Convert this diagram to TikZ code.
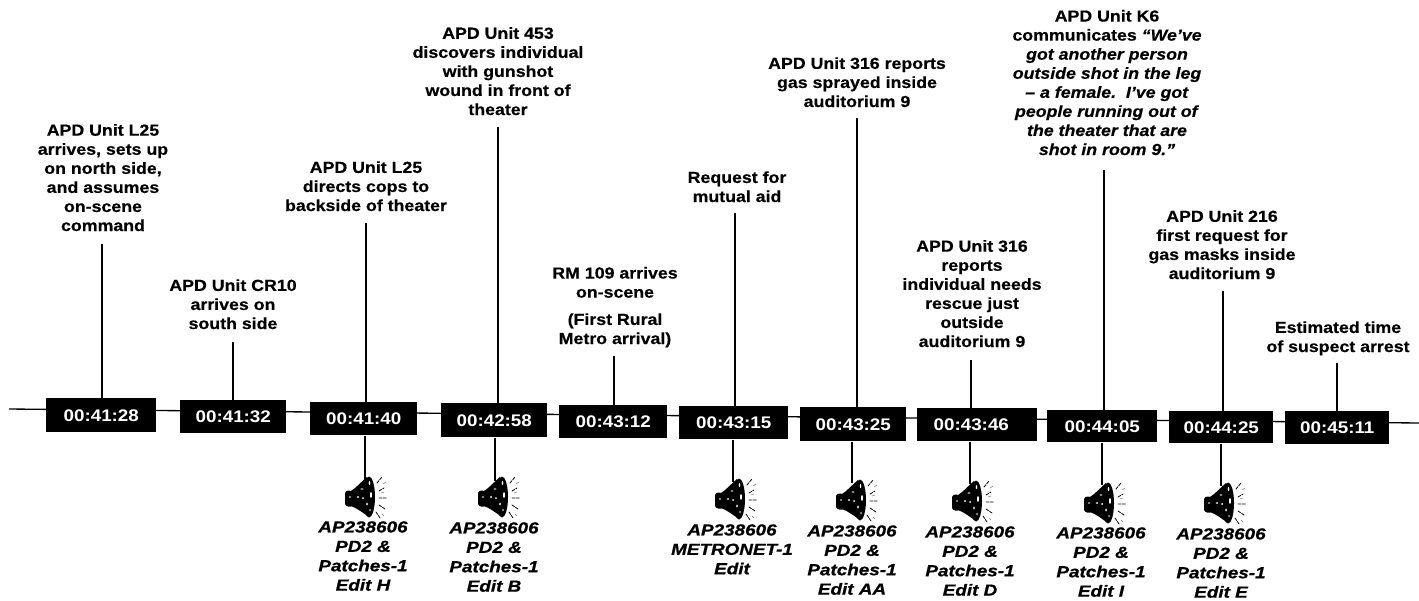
\documentclass[tikz,border=0pt]{standalone}
\usepackage{fontspec}
\setmainfont{Liberation Sans}
\newfontfamily\labfont[UprightFont=* Bold,ItalicFont=* Bold Italic,FakeStretch=1.11,FakeBold=0.4]{Liberation Sans}
\newfontfamily\clipfont[UprightFont=* Bold Italic,FakeStretch=1.18,FakeBold=0.8]{Liberation Sans}
\newfontfamily\timefont[UprightFont=* Bold,FakeStretch=1.12]{Liberation Sans}
\tikzset{
  x=0.75pt,y=-0.75pt,
  timebox/.style={fill=black,text=white,font=\fontsize{12.6}{14}\timefont,inner sep=0pt,anchor=north west},
  evlabel/.style={align=center,font=\fontsize{12}{14.3}\labfont,inner sep=0pt,anchor=south,execute at end node=\strut},
  clipnote/.style={align=center,font=\fontsize{12}{14.55}\clipfont,inner sep=0pt,anchor=north,execute at begin node=\strut},
  axisline/.style={line width=1pt},
  stem/.style={line width=0.95pt},
}
\newcommand{\spk}[2]{%
  \begin{scope}[shift={(#1,#2)}]
    \fill (0,17) .. controls (1,14) and (5,14) .. (7,15) -- (8,30) .. controls (5,31) and (1,31) .. (0,28) -- cycle;
    \fill (6,15) .. controls (11,12) and (16,6) .. (22,1) -- (24,41) .. controls (18,37) and (12,32) .. (6,30) -- cycle;
    \fill (24,21) ellipse [x radius=6,y radius=20.5];
    \fill[white] (24.5,7) ellipse [x radius=0.8,y radius=2];
    \fill[white] (26,19) ellipse [x radius=1,y radius=3];
    \fill[white] (22,28) ellipse [x radius=0.9,y radius=1.6];
    \fill[white] (25,34) ellipse [x radius=0.6,y radius=1.5];
    \fill[white] (17,13) ellipse [x radius=1.6,y radius=0.7];
    \fill[white] (13,21) ellipse [x radius=1.4,y radius=0.8];
    \fill[white] (18,22) ellipse [x radius=1,y radius=1];
    \fill[white] (5,21) ellipse [x radius=1,y radius=0.8];
    \draw[line width=0.6pt,line cap=round,dash pattern=on 2.2pt off 1pt] (32,7)--(37,1) (34,15)--(39,12) (34,22)--(42,22)
      (34,29)--(40,33) (31,36)--(35,42);
    \draw[line width=0.4pt,gray] (38,8)--(41,6) (36,17)--(39,16) (37,38)--(39,40);
  \end{scope}}
\begin{document}
\begin{tikzpicture}
\useasboundingbox (0,0) rectangle (1419,600);
\coordinate (L) at (9,409);
\coordinate (R) at (1419,423);
\draw[axisline] (L) -- (R);
\foreach \n/\xa/\ya/\w/\h/\p/\t in {a/46/398/110/34/0/00:41:28,b/180/400/106/33/0/00:41:32,c/310/402/107/33/0/00:41:40,d/441/403/106/34/0/00:42:58,e/559/405/108/33/0/00:43:12,f/679/406/109/33/0/00:43:15,g/800/407/106/34/0/00:43:25,h/917/408/120/33/9/00:43:46,i/1047/410/110/32/0/00:44:05,j/1169/411/104/32/0/00:44:25,k/1285/411/104/33/0/00:45:11}{
  \node[timebox,minimum width=\w*0.75pt,minimum height=\h*0.75pt] (\n) at (\xa,\ya) {\t\hspace*{\p pt}};
}
\node[evlabel] (la) at (103,237) {APD Unit L25\\arrives, sets up\\on north side,\\and assumes\\on-scene\\command};
\node[evlabel] (lb) at (233,335) {APD Unit CR10\\arrives on\\south side};
\node[evlabel] (lc) at (366,217) {APD Unit L25\\directs cops to\\backside of theater};
\node[evlabel] (ld) at (498,121) {APD Unit 453\\discovers individual\\with gunshot\\wound in front of\\theater};
\node[evlabel] (le) at (615,350) {RM 109 arrives\\on-scene\\[6.2pt](First Rural\\Metro arrival)};
\node[evlabel] (lf) at (737,208) {Request for\\mutual aid};
\node[evlabel] (lg) at (857,113) {APD Unit 316 reports\\gas sprayed inside\\auditorium 9};
\node[evlabel] (lh) at (972,353) {APD Unit 316\\reports\\individual needs\\rescue just\\outside\\auditorium 9};
\node[evlabel] (li) at (1107,161) {APD Unit K6\\communicates \textit{“We’ve}\\\textit{got another person}\\\textit{outside shot in the leg}\\\textit{– a female.\ \ I’ve got}\\\textit{people running out of}\\\textit{the theater that are}\\\textit{shot in room 9.”}};
\node[evlabel] (lj) at (1222,285) {APD Unit 216\\first request for\\gas masks inside\\auditorium 9};
\node[evlabel] (lk) at (1338,358) {Estimated time\\of suspect arrest};
\coordinate (ta) at (102,244); \coordinate (tb) at (233,342); \coordinate (tc) at (366,223);
\coordinate (td) at (498,127); \coordinate (te) at (614,356); \coordinate (tf) at (735,213);
\coordinate (tg) at (857,118); \coordinate (th) at (971,360); \coordinate (ti) at (1104,170);
\coordinate (tj) at (1223,291); \coordinate (tk) at (1337,363);
\foreach \n in {a,b,c,d,e,f,g,h,i,j,k}{
  \draw[stem] (t\n) -- (\n.north -| t\n);
}
\foreach \n/\xx/\yy/\sx/\sy in {c/365/480/345/476,d/495/481/478/476,f/733/482/715/478,g/852/483/836/479,h/970/484/952/480,i/1102/485/1084/482,j/1221/486/1204/482}{
  \coordinate (s\n) at (\xx,\yy);
  \draw[stem] (\n.south -| s\n) -- (s\n);
  \spk{\sx}{\sy}
}
\node[clipnote] (cc) at (363,521) {AP238606\\PD2 \&\\Patches-1\\Edit H};
\node[clipnote] (cd) at (494,522) {AP238606\\PD2 \&\\Patches-1\\Edit B};
\node[clipnote] (cf) at (732,524) {AP238606\\METRONET-1\\Edit};
\node[clipnote] (cg) at (852,525) {AP238606\\PD2 \&\\Patches-1\\Edit AA};
\node[clipnote] (ch) at (970,526) {AP238606\\PD2 \&\\Patches-1\\Edit D};
\node[clipnote] (ci) at (1101,527) {AP238606\\PD2 \&\\Patches-1\\Edit I};
\node[clipnote] (cj) at (1221,528) {AP238606\\PD2 \&\\Patches-1\\Edit E};
\end{tikzpicture}
\end{document}
